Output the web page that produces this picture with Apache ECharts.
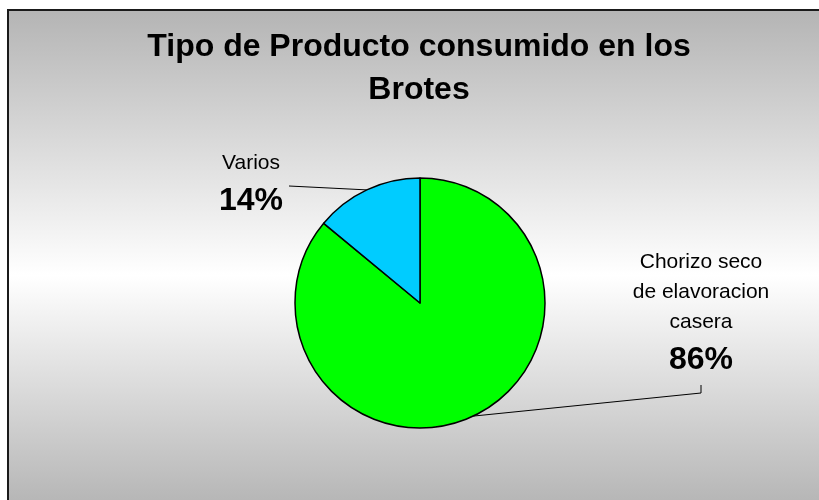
<!DOCTYPE html>
<html>
<head>
<meta charset="utf-8">
<script src="https://cdn.jsdelivr.net/npm/echarts@6/dist/echarts.min.js"></script>
<style>
html,body{margin:0;padding:0;background:#fff;}
#chart{width:819px;height:500px;}
</style>
</head>
<body>
<div id="chart"></div>
<script>
// Data
const titleText = 'Tipo de Producto consumido en los\nBrotes';
const categories = ['Chorizo seco de elavoracion casera', 'Varios'];
const labelLines = [['Chorizo seco', 'de elavoracion', 'casera'], ['Varios']];
const values = [86, 14];
const colors = ['#00ff00', '#00ccff'];

const FONT = '"Liberation Sans", Arial, sans-serif';
const labelPos = [[701, 315], [251, 186]];
// leader line bend / end points (label side)
const leaderPts = [[[701, 393], [701, 385]], [[289, 186], [289, 186]]];

const chart = echarts.init(document.getElementById('chart'), null, {renderer: 'canvas'});
chart.setOption({
  animation: false,
  backgroundColor: '#ffffff',
  graphic: [{
    type: 'rect',
    z: -10,
    shape: {x: 8, y: 10, width: 840, height: 510},
    style: {
      fill: new echarts.graphic.LinearGradient(0, 0, 0, 1, [
        {offset: 0, color: '#b4b4b4'},
        {offset: 0.52, color: '#ffffff'},
        {offset: 1, color: '#b0b0b0'}
      ]),
      stroke: '#1a1a1a',
      lineWidth: 2
    }
  }],
  title: {
    text: titleText,
    left: 419,
    top: 26,
    padding: 0,
    textAlign: 'center',
    textStyle: {fontFamily: FONT, fontSize: 32, fontWeight: 'bold', color: '#000', lineHeight: 43}
  },
  series: [{
    type: 'pie',
    center: [420, 303],
    radius: 125,
    startAngle: 90,
    clockwise: true,
    data: categories.map((c, i) => ({name: c, value: values[i], itemStyle: {color: colors[i]}})),
    itemStyle: {borderColor: '#000', borderWidth: 1.5},
    label: {
      show: true,
      position: 'outside',
      fontFamily: FONT,
      color: '#000',
      formatter: function (p) {
        const names = labelLines[p.dataIndex].map(s => '{n|' + s + '}').join('\n');
        return names + '\n{p|' + Math.round(p.percent) + '%}';
      },
      rich: {
        n: {fontFamily: FONT, fontSize: 21, lineHeight: 30, color: '#000', align: 'center'},
        p: {fontFamily: FONT, fontSize: 32, fontWeight: 'bold', lineHeight: 46, color: '#000', align: 'center'}
      }
    },
    labelLine: {show: true, length: 20, length2: 20, lineStyle: {color: '#000', width: 1}},
    labelLayout: function (params) {
      const i = params.dataIndex;
      const pos = labelPos[i];
      const out = {x: pos[0], y: pos[1], align: 'center', verticalAlign: 'middle'};
      if (params.labelLinePoints && params.labelLinePoints[0]) {
        const a = params.labelLinePoints[0];
        out.labelLinePoints = [[a[0], a[1]], leaderPts[i][0], leaderPts[i][1]];
      }
      return out;
    },
    emphasis: {disabled: true}
  }]
});
</script>
</body>
</html>
